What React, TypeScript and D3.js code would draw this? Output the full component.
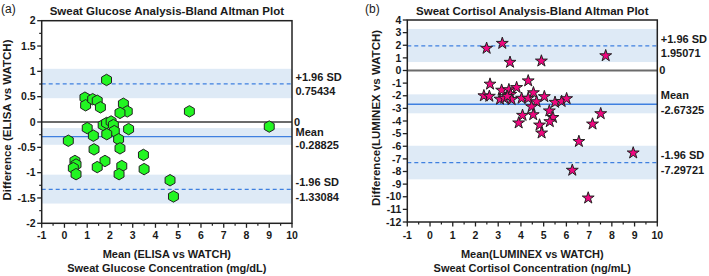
import React from 'react';
import * as d3 from 'd3';

// ---------- data ----------
const glucoseMean = [1.85, 0.9, 0.93, 1.24, 1.44, 1.58, 2.59, 2.76, 2.44, 5.49, 9.0, 1.0, 1.7, 1.85, 2.05, 2.15, 2.19, 1.86, 2.82, 0.17, 1.27, 2.38, 1.3, 2.44, 3.47, 0.46, 0.51, 0.39, 0.51, 1.78, 1.44, 2.52, 2.4, 3.5, 4.64, 4.79];
const glucoseDiff = [0.83, 0.48, 0.33, 0.45, 0.42, 0.29, 0.36, 0.21, 0.18, 0.21, -0.09, -0.12, -0.06, -0.02, 0.01, -0.06, -0.18, -0.24, -0.14, -0.37, -0.27, -0.34, -0.54, -0.52, -0.65, -0.77, -0.84, -0.91, -1.03, -0.77, -0.89, -0.87, -1.03, -0.93, -1.15, -1.47];

const cortisolMean = [2.49, 3.18, 3.52, 4.9, 7.73, 2.64, 4.32, 2.37, 2.61, 3.15, 3.47, 3.81, 3.55, 3.08, 3.27, 3.59, 3.4, 4.03, 4.32, 4.55, 4.69, 5.03, 5.5, 5.79, 6.01, 4.47, 5.25, 4.07, 4.54, 5.41, 3.9, 5.27, 4.82, 4.91, 7.51, 7.15, 6.55, 8.94, 6.26, 6.96];
const cortisolDiff = [1.76, 2.15, 0.65, 0.75, 1.17, -1.08, -0.82, -2.0, -2.04, -1.56, -1.52, -1.35, -1.89, -2.27, -2.2, -2.3, -2.05, -2.2, -2.2, -1.76, -2.47, -2.07, -2.52, -2.45, -2.23, -2.87, -3.2, -3.55, -3.5, -3.72, -4.15, -4.05, -4.32, -4.95, -3.42, -4.24, -5.62, -6.53, -7.9, -10.1];

// bias and limits of agreement
const glucoseStats = [0.75434, -0.28825, -1.33084];
const cortisolStats = [1.95071, -2.67325, -7.29721];
const glucoseStatLabels = ['0.75434', '-0.28825', '-1.33084'];
const cortisolStatLabels = ['1.95071', '-2.67325', '-7.29721'];
// confidence bands [low, high] for upper LoA, bias, lower LoA
const glucoseBands = [[0.47, 1.05], [-0.45, -0.12], [-1.61, -1.04]];
const cortisolBands = [[0.67, 3.29], [-3.39, -1.89], [-8.62, -5.96]];

const xTicks = [-1, 0, 1, 2, 3, 4, 5, 6, 7, 8, 9, 10];
const glucoseYTicks = [-2, -1.5, -1, -0.5, 0, 0.5, 1, 1.5, 2];
const cortisolYTicks = [-12, -11, -10, -9, -8, -7, -6, -5, -4, -3, -2, -1, 0, 1, 2, 3, 4];

// ---------- symbols ----------
const symbolHexagon = {
  draw(ctx: any, size: number) {
    const r = Math.sqrt(size / (1.5 * Math.sqrt(3)));
    for (let i = 0; i < 6; i++) {
      const a = (Math.PI / 3) * i - Math.PI / 2;
      const x = r * Math.cos(a);
      const y = r * Math.sin(a);
      if (i === 0) ctx.moveTo(x, y);
      else ctx.lineTo(x, y);
    }
    ctx.closePath();
  },
};

const FONT = "'Liberation Sans', Arial, sans-serif";
const BAND = '#deeaf6';
const BLUE = '#3f80e0';

type PanelProps = {
  left: number; right: number; top: number; bottom: number;
  yDomain: [number, number];
  yTicks: number[];
  yMinor: number[];
  means: number[]; diffs: number[];
  stats: number[]; statLabels: string[]; bands: number[][];
  symbol: any; symbolSize: number; fill: string;
  tag: string; tagX: number; title: string; yTitle: string; xTitle1: string; xTitle2: string;
  yTitleX: number; yTitleY: number;
  meanOffsets: [number, number];
};

function Panel(p: PanelProps) {
  const x = d3.scaleLinear().domain([-1, 10]).range([p.left, p.right]);
  const y = d3.scaleLinear().domain(p.yDomain).range([p.bottom, p.top]);
  const sym = d3.symbol().type(p.symbol).size(p.symbolSize)();
  const xMinor = d3.range(-0.5, 10, 1);
  const cx = (p.left + p.right) / 2;
  const lx = p.right + 3.5;
  return (
    <g fontFamily={FONT} fill="#1a1a1a">
      <text x={p.tagX} y={12.5} fontSize={12} fontFamily={FONT}>{p.tag}</text>
      <text x={cx} y={15} fontSize={11.5} fontWeight="bold" textAnchor="middle">{p.title}</text>
      {p.bands.map((b, i) => (
        <rect key={'b' + i} x={p.left} width={p.right - p.left} y={y(b[1])} height={y(b[0]) - y(b[1])} fill={BAND} />
      ))}
      <line x1={p.left} x2={p.right} y1={y(0)} y2={y(0)} stroke="#6b6b6b" strokeWidth={2} />
      <line x1={p.left} x2={p.right} y1={y(p.stats[0])} y2={y(p.stats[0])} stroke={BLUE} strokeWidth={1.2} strokeDasharray="4,3" />
      <line x1={p.left} x2={p.right} y1={y(p.stats[1])} y2={y(p.stats[1])} stroke={BLUE} strokeWidth={1.3} />
      <line x1={p.left} x2={p.right} y1={y(p.stats[2])} y2={y(p.stats[2])} stroke={BLUE} strokeWidth={1.2} strokeDasharray="4,3" />
      {p.means.map((m, i) => (
        <path key={'p' + i} d={sym as string} transform={`translate(${x(m)},${y(p.diffs[i])})`} fill={p.fill} stroke="#222" strokeWidth={1} />
      ))}
      <rect x={p.left} y={p.top} width={p.right - p.left} height={p.bottom - p.top} fill="none" stroke="#222" strokeWidth={1.5} />
      {xTicks.map((t) => (
        <g key={'xt' + t}>
          <line x1={x(t)} x2={x(t)} y1={p.bottom} y2={p.bottom + 4.5} stroke="#222" strokeWidth={1.3} />
          <text x={x(t)} y={238.5} fontSize={10.5} fontWeight="bold" textAnchor="middle">{String(t)}</text>
        </g>
      ))}
      {xMinor.map((t) => (
        <line key={'xm' + t} x1={x(t)} x2={x(t)} y1={p.bottom} y2={p.bottom + 2.5} stroke="#222" strokeWidth={1.2} />
      ))}
      {p.yTicks.map((t) => (
        <g key={'yt' + t}>
          <line x1={p.left - 4.5} x2={p.left} y1={y(t)} y2={y(t)} stroke="#222" strokeWidth={1.3} />
          <text x={p.left - 6} y={y(t)} dy="0.35em" fontSize={10.5} fontWeight="bold" textAnchor="end">{String(t)}</text>
        </g>
      ))}
      {p.yMinor.map((t) => (
        <line key={'ym' + t} x1={p.left - 2.5} x2={p.left} y1={y(t)} y2={y(t)} stroke="#222" strokeWidth={1.2} />
      ))}
      <text transform={`translate(${p.yTitleX},${p.yTitleY}) rotate(-90)`} fontSize={11.5} fontWeight="bold" textAnchor="middle" dy="0.35em">{p.yTitle}</text>
      <text x={cx} y={258} fontSize={11} fontWeight="bold" textAnchor="middle">{p.xTitle1}</text>
      <text x={cx} y={272} fontSize={11} fontWeight="bold" textAnchor="middle">{p.xTitle2}</text>
      <text x={p.right + 2} y={y(0)} dy="0.35em" fontSize={11} fontWeight="bold">0</text>
      <text x={lx} y={y(p.stats[0]) - 7} dy="0.35em" fontSize={11} fontWeight="bold">+1.96 SD</text>
      <text x={lx} y={y(p.stats[0]) + 7.5} dy="0.35em" fontSize={11} fontWeight="bold">{p.statLabels[0]}</text>
      <text x={lx} y={y(p.stats[1]) + p.meanOffsets[0]} dy="0.35em" fontSize={11} fontWeight="bold">Mean</text>
      <text x={lx} y={y(p.stats[1]) + p.meanOffsets[1]} dy="0.35em" fontSize={11} fontWeight="bold">{p.statLabels[1]}</text>
      <text x={lx} y={y(p.stats[2]) - 7.5} dy="0.35em" fontSize={11} fontWeight="bold">-1.96 SD</text>
      <text x={lx} y={y(p.stats[2]) + 7.7} dy="0.35em" fontSize={11} fontWeight="bold">{p.statLabels[2]}</text>
    </g>
  );
}

export default function App() {
  return (
    <svg width={709} height={276} style={{ position: 'absolute', left: 0, top: 0, background: '#fff' }}>
      <Panel
        left={41.7} right={292} top={20.7} bottom={223.3}
        yDomain={[-2, 2]} yTicks={glucoseYTicks} yMinor={d3.range(-1.75, 2, 0.5)}
        means={glucoseMean} diffs={glucoseDiff}
        stats={glucoseStats} statLabels={glucoseStatLabels} bands={glucoseBands}
        symbol={symbolHexagon} symbolSize={85} fill="#22f522"
        tag="(a)" tagX={1} title="Sweat Glucose Analysis-Bland Altman Plot"
        yTitle="Difference (ELISA vs WATCH)" xTitle1="Mean (ELISA vs WATCH)" xTitle2="Sweat Glucose Concentration (mg/dL)"
        yTitleX={7} yTitleY={120}
        meanOffsets={[-4.5, 8.4]}
      />
      <Panel
        left={407.3} right={657.3} top={20} bottom={222}
        yDomain={[-12, 4]} yTicks={cortisolYTicks} yMinor={[]}
        means={cortisolMean} diffs={cortisolDiff}
        stats={cortisolStats} statLabels={cortisolStatLabels} bands={cortisolBands}
        symbol={d3.symbolStar} symbolSize={44} fill="#f0067f"
        tag="(b)" tagX={365} title="Sweat Cortisol Analysis-Bland Altman Plot"
        yTitle="Difference(LUMINEX vs WATCH)" xTitle1="Mean(LUMINEX vs WATCH)" xTitle2="Sweat Cortisol Concentration (ng/mL)"
        yTitleX={375.5} yTitleY={118}
        meanOffsets={[-8.6, 5.8]}
      />
    </svg>
  );
}
